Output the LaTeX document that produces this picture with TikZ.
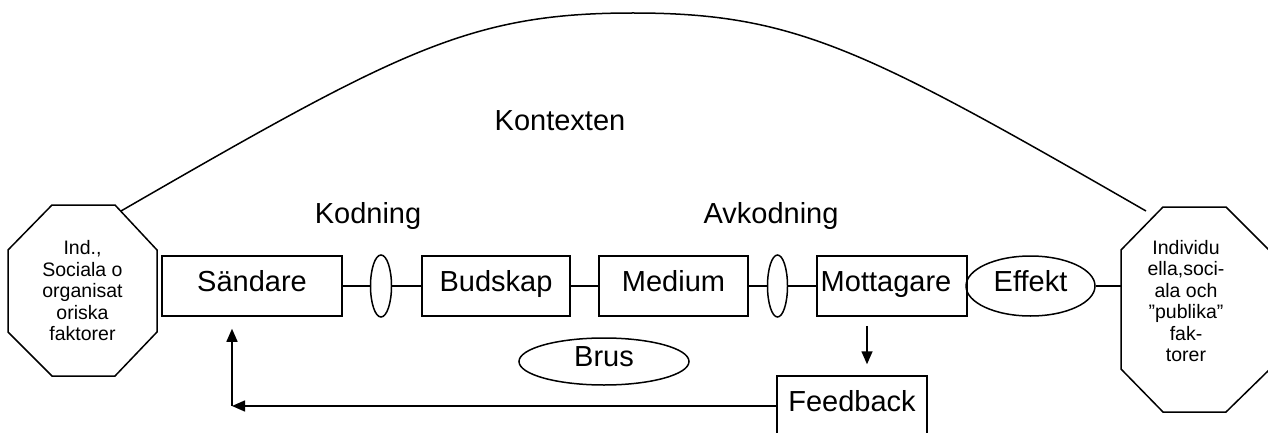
\documentclass[tikz,border=0pt]{standalone}
\usepackage{fontspec}
\setmainfont{Liberation Sans}
\usetikzlibrary{arrows.meta,positioning,shapes.geometric}
\newcommand{\bigfont}{\fontsize{29}{34}\selectfont}
\newcommand{\smallfont}{\fontsize{19.5}{21.5}\selectfont}
\tikzstyle{stage}=[draw, minimum height=60pt, inner sep=0pt, font=\bigfont, text height=19pt, text depth=9pt]
\tikzstyle{coder}=[draw, ellipse, minimum width=21pt, minimum height=62pt, inner sep=0pt, node distance=119.5pt]
\tikzstyle{bubble}=[stage, ellipse]
\tikzstyle{factors}=[align=center, font=\smallfont]
\tikzstyle{textbox}=[font=\bigfont, anchor=base]
\tikzstyle{flow}=[-{Triangle[length=13pt,width=11pt]}]

\begin{document}
\begin{tikzpicture}[x=1pt, y=-1pt, line width=1.5pt]
    \clip (0,0) rectangle (1268,433);
    \node (sand) [stage, minimum width=180pt] at (252,286) {S\"andare};
    \node (ell1) [coder, right of=sand, node distance=129pt] {};
    \node (bud) [stage, minimum width=148pt, right of=ell1, node distance=115pt] {Budskap};
    \node (med) [stage, minimum width=149pt, right of=bud, node distance=177.5pt] {Medium};
    \node (ell2) [coder, minimum width=20pt, right of=med, node distance=104pt] {};
    \node (mott) [stage, minimum width=150pt, right of=ell2, node distance=114.5pt] {\hspace*{-2pt}Mottagare\hspace*{10pt}};
    \node (eff) [bubble, minimum width=129pt, minimum height=60pt, right of=mott, node distance=138.5pt] {Effekt};
    %
    % octagons of factors
    \draw (52,205) -- (115,205) -- (157,250) -- (157,332) -- (115,376)
      -- (52,376) -- (8,332) -- (8,250) -- cycle;
    \node (lfac) [factors] at (82.5,291)
      {Ind.,\\Sociala o\\organisat\\oriska\\faktorer};
    \draw (1163,207) -- (1226,207) -- (1270,251) -- (1270,369) -- (1226,412)
      -- (1163,412) -- (1121,369) -- (1121,250) -- cycle;
    \node (rfac) [factors] at (1186,301)
      {Individu\\ella,soci-\\ala och\\ ”publika”\\fak-\\torer};
    \coordinate (lctx) at (121,211);
    \coordinate (rctx) at (1146,211);
    \coordinate (rfacw) at (1121,309.5);
    %
    \node (brus) [bubble, minimum width=170pt, minimum height=47pt] at (604,361.5) {Brus};
    \node (fb) [stage, minimum width=150pt] at (852,406) {Feedback};
    %
    \node (ctx) [textbox] at (560,131) {Kontexten};
    \node (kod) [textbox] at (368,223) {Kodning};
    \node (avkod) [textbox] at (771,223) {Avkodning};
    %
    \draw (sand) -- (ell1);
    \draw (ell1) -- (bud);
    \draw (bud) -- (med);
    \draw (med) -- (ell2);
    \draw (ell2) -- (mott);
    \draw (eff.east) -- (eff.east -| rfacw);
    \draw (lctx) .. controls (400,50) and (470,13) .. (633,13)
      .. controls (796,13) and (866,50) .. (rctx);
    %
    \coordinate (fbarrow) at (867,0);
    \coordinate (fbcorner) at (232,406);
    \draw [flow, shorten <=9pt, shorten >=11pt] (mott.south -| fbarrow) -- (fb.north -| fbarrow);
    \draw [flow] (fb.west) -- (fbcorner);
    \draw [flow, shorten >=12pt] (fbcorner) -- (sand.south -| fbcorner);
  \end{tikzpicture}
\end{document}
